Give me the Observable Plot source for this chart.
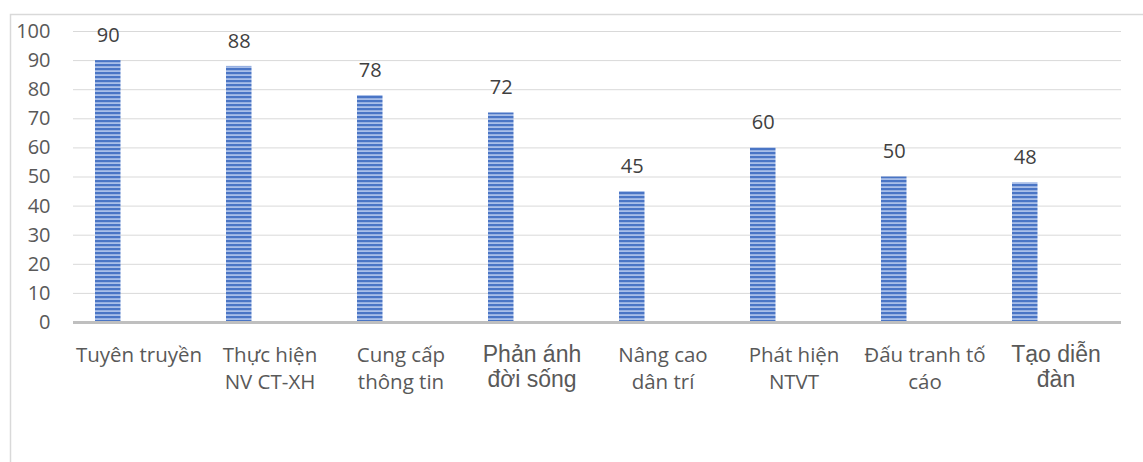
<!DOCTYPE html>
<html>
<head>
<meta charset="utf-8">
<script src="https://cdn.jsdelivr.net/npm/d3@7"></script>
<script src="https://cdn.jsdelivr.net/npm/@observablehq/plot@0.6"></script>
<style>
  html, body { margin: 0; padding: 0; background: #fff; }
  #chart svg { display: block; }
</style>
</head>
<body>
<div id="chart"></div>
<script>
// Activity categories (line breaks mark the wrapped labels)
const categories = [
  "Tuyên truyền",
  "Thực hiện\nNV CT-XH",
  "Cung cấp\nthông tin",
  "Phản ánh\nđời sống",
  "Nâng cao\ndân trí",
  "Phát hiện\nNTVT",
  "Đấu tranh tố\ncáo",
  "Tạo diễn\nđàn"
];
const values = [90, 88, 78, 72, 45, 60, 50, 48];
const yTicks = [0, 10, 20, 30, 40, 50, 60, 70, 80, 90, 100];

const data = categories.map((category, i) => ({category, value: values[i]}));

// Two labels are set in a larger, different typeface
const largeLabel = new Set([categories[3], categories[7]]);

const chart = Plot.plot({
  width: 1143,
  height: 462,
  marginLeft: 73,
  marginRight: 22,
  marginTop: 31,
  marginBottom: 140,
  style: {fontFamily: "'Open Sans', sans-serif", fontSize: "20px", color: "#595959", background: "#fff"},
  x: {domain: categories, padding: 0, axis: null},
  y: {domain: [0, 100], axis: null},
  marks: [
    Plot.gridY(yTicks, {stroke: "#d9d9d9", strokeOpacity: 1, strokeWidth: 1}),
    Plot.axisY(yTicks, {tickSize: 0, tickPadding: 23, fontSize: 20, fill: "#595959", label: null}),
    Plot.barY(data, {
      x: "category",
      y: "value",
      fill: "url(#bar-stripes)",
      insetLeft: 22,
      insetRight: 83.5
    }),
    Plot.ruleY([0], {stroke: "#bfbfbf", strokeWidth: 3}),
    Plot.text(data, {
      x: "category",
      y: "value",
      text: d => String(d.value),
      dx: -30.75,
      dy: -25,
      fontSize: 20,
      fill: "#404040"
    }),
    Plot.text(data.filter(d => !largeLabel.has(d.category)), {
      x: "category",
      y: () => 0,
      text: "category",
      lineAnchor: "top",
      dy: 20.8,
      fontSize: 20.5,
      lineHeight: 1.3,
      fill: "#595959"
    }),
    Plot.text(data.filter(d => largeLabel.has(d.category)), {
      x: "category",
      y: () => 0,
      text: "category",
      lineAnchor: "top",
      dy: 22,
      fontSize: 23,
      fontFamily: "'Liberation Sans', Arial, sans-serif",
      lineHeight: 1.087,
      fill: "#595959"
    })
  ]
});

// Horizontal stripe fill for the bars
const svg = d3.select(chart);
const defs = svg.insert("defs", ":first-child");
const pat = defs.append("pattern")
  .attr("id", "bar-stripes")
  .attr("patternUnits", "userSpaceOnUse")
  .attr("width", 8)
  .attr("height", 4);
pat.append("rect").attr("width", 8).attr("height", 4).attr("fill", "#a9bfe9");
pat.append("rect").attr("y", 0).attr("width", 8).attr("height", 2.2).attr("fill", "#4a75c5");

// Chart-area border
svg.append("rect")
  .attr("x", 10.5)
  .attr("y", 14.5)
  .attr("width", 1145)
  .attr("height", 460)
  .attr("fill", "none")
  .attr("stroke", "#d9d9d9")
  .attr("stroke-width", 1.5);

document.getElementById("chart").appendChild(chart);
</script>
</body>
</html>
